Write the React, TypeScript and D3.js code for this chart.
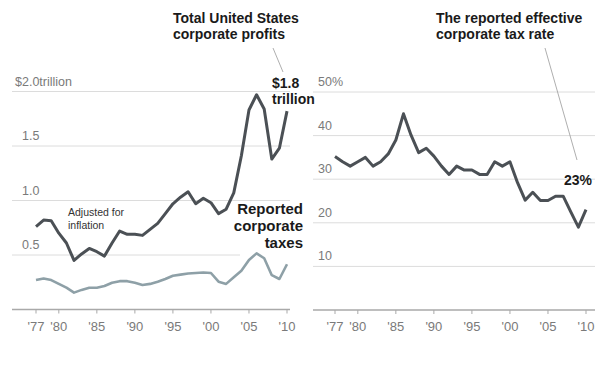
import React from 'react';
import * as d3 from 'd3';

const years = d3.range(1977, 2011);
const tickYears = [1977, 1980, 1985, 1990, 1995, 2000, 2005, 2010];

// trillions of dollars, adjusted for inflation
const profits = [
  0.76, 0.82, 0.815, 0.70, 0.61, 0.45, 0.51, 0.56, 0.53, 0.49,
  0.61, 0.72, 0.69, 0.69, 0.68, 0.735, 0.79, 0.88, 0.97, 1.03,
  1.08, 0.97, 1.02, 0.98, 0.88, 0.92, 1.07, 1.41, 1.83, 1.97,
  1.84, 1.38, 1.48, 1.82,
];

const taxes = [
  0.27, 0.285, 0.27, 0.235, 0.20, 0.155, 0.18, 0.20, 0.20, 0.215,
  0.245, 0.26, 0.26, 0.245, 0.225, 0.235, 0.255, 0.28, 0.31, 0.32,
  0.33, 0.335, 0.34, 0.335, 0.255, 0.235, 0.295, 0.355, 0.455, 0.515,
  0.47, 0.315, 0.28, 0.415,
];

// percent
const taxRate = [
  35.2, 34.0, 33.0, 34.0, 35.0, 33.0, 34.0, 35.8, 39.0, 45.0,
  40.1, 36.1, 37.1, 35.3, 33.0, 31.1, 33.0, 32.1, 32.1, 31.1,
  31.1, 34.0, 33.0, 34.0, 29.2, 25.2, 27.0, 25.1, 25.1, 26.1,
  26.1, 22.5, 19.0, 23.0,
];

const leftTicks = [0.5, 1.0, 1.5, 2.0];
const leftTickLabels = ['0.5', '1.0', '1.5', '$2.0trillion'];
const rightTicks = [10, 20, 30, 40, 50];
const rightTickLabels = ['10', '20', '30', '40', '50%'];

const FONT = 'Arial, "Liberation Sans", Helvetica, sans-serif';
const dark = '#4b5055';
const light = '#8ea0a7';
const grid = '#dcdcdc';
const axisCol = '#a9a9a9';
const labelCol = '#7a7a7a';

const yrLabel = (y: number) => "'" + String(y).slice(2);

export default function App() {
  const xL = d3.scaleLinear().domain([1977, 2010]).range([36, 287]);
  const yL = d3.scaleLinear().domain([0, 2]).range([309.5, 91.5]);
  const xR = d3.scaleLinear().domain([1977, 2010]).range([335, 586]);
  const yR = d3.scaleLinear().domain([0, 50]).range([310, 92]);

  const lineL = (vals: number[]) =>
    d3.line<number>().x((_, i) => xL(years[i])).y(d => yL(d))(vals) || '';
  const lineR = d3.line<number>().x((_, i) => xR(years[i])).y(d => yR(d))(taxRate) || '';

  return (
    <div style={{ position: 'fixed', left: 0, top: 0 }}>
      <svg width={616} height={385} style={{ display: 'block', background: '#fff' }} fontFamily={FONT}>
        {/* left panel grid */}
        {leftTicks.map((t, i) => (
          <g key={'lg' + t}>
            <line x1={12} x2={t === 0.5 ? 240 : 290} y1={yL(t)} y2={yL(t)} stroke={grid} strokeWidth={1} />
            <text x={i === 3 ? 15 : 22} y={yL(t) - 6} fontSize={12.5} fill={labelCol}>{leftTickLabels[i]}</text>
          </g>
        ))}
        <line x1={12} x2={290} y1={yL(0)} y2={yL(0)} stroke={axisCol} strokeWidth={1.5} />
        {tickYears.map(y => (
          <g key={'lt' + y}>
            <line x1={xL(y)} x2={xL(y)} y1={yL(0)} y2={yL(0) + 4} stroke={axisCol} strokeWidth={1} />
            <text x={xL(y)} y={331} fontSize={13} fill={labelCol} textAnchor="middle">{yrLabel(y)}</text>
          </g>
        ))}
        <path d={lineL(taxes)} fill="none" stroke={light} strokeWidth={2.6} strokeLinejoin="round" />
        <path d={lineL(profits)} fill="none" stroke={dark} strokeWidth={3} strokeLinejoin="round" />

        {/* right panel grid */}
        {rightTicks.map((t, i) => (
          <g key={'rg' + t}>
            <line x1={313} x2={595} y1={yR(t)} y2={yR(t)} stroke={grid} strokeWidth={1} />
            <text x={318} y={yR(t) - 6} fontSize={12.5} fill={labelCol}>{rightTickLabels[i]}</text>
          </g>
        ))}
        <line x1={313} x2={595} y1={yR(0)} y2={yR(0)} stroke={axisCol} strokeWidth={1.5} />
        {tickYears.map(y => (
          <g key={'rt' + y}>
            <line x1={xR(y)} x2={xR(y)} y1={yR(0)} y2={yR(0) + 4} stroke={axisCol} strokeWidth={1} />
            <text x={xR(y)} y={331} fontSize={13} fill={labelCol} textAnchor="middle">{yrLabel(y)}</text>
          </g>
        ))}
        <path d={lineR} fill="none" stroke={dark} strokeWidth={3} strokeLinejoin="round" />

        {/* annotations */}
        <text x={173} y={23} fontSize={14} fontWeight="bold" fill="#1a1a1a">Total United States</text>
        <text x={173} y={39} fontSize={14} fontWeight="bold" fill="#1a1a1a">corporate profits</text>
        <line x1={273} y1={48} x2={283} y2={72} stroke="#999" strokeWidth={0.8} />
        <text x={272} y={88} fontSize={14} fontWeight="bold" fill="#1a1a1a">$1.8</text>
        <text x={272} y={104} fontSize={14} fontWeight="bold" fill="#1a1a1a">trillion</text>

        <text x={436} y={23} fontSize={14} fontWeight="bold" fill="#1a1a1a">The reported effective</text>
        <text x={436} y={39} fontSize={14} fontWeight="bold" fill="#1a1a1a">corporate tax rate</text>
        <line x1={545} y1={48} x2={577} y2={160} stroke="#999" strokeWidth={0.8} />
        <text x={578} y={185} fontSize={14} fontWeight="bold" fill="#1a1a1a" textAnchor="middle">23%</text>

        <text x={68} y={216} fontSize={10.5} fill="#333">Adjusted for</text>
        <text x={68} y={229} fontSize={10.5} fill="#333">inflation</text>

        <text x={303} y={214} fontSize={15} fontWeight="bold" fill="#1a1a1a" textAnchor="end">Reported</text>
        <text x={303} y={231} fontSize={15} fontWeight="bold" fill="#1a1a1a" textAnchor="end">corporate</text>
        <text x={303} y={248} fontSize={15} fontWeight="bold" fill="#1a1a1a" textAnchor="end">taxes</text>
      </svg>
    </div>
  );
}
